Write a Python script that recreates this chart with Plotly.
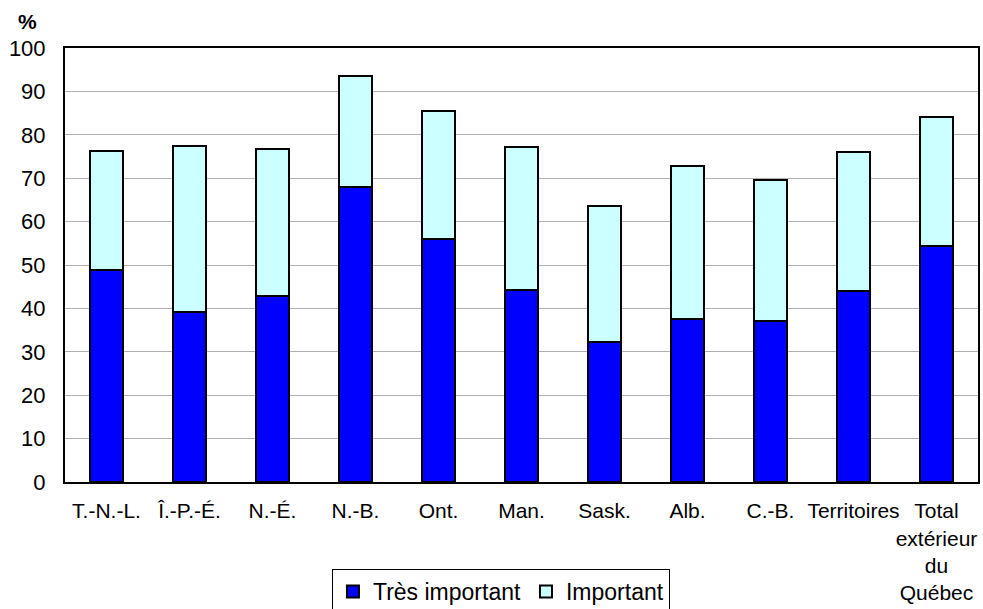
import plotly.graph_objects as go

categories = ["T.-N.-L.", "Î.-P.-É.", "N.-É.", "N.-B.", "Ont.", "Man.", "Sask.", "Alb.",
              "C.-B.", "Territoires", "Total<br>extérieur<br>du<br>Québec"]
tres_important = [48.9, 39.1, 42.9, 67.9, 56.1, 44.3, 32.3, 37.5, 37.2, 44.0, 54.3]
important = [27.3, 38.4, 33.8, 25.7, 29.5, 32.9, 31.4, 35.3, 32.4, 32.1, 29.8]
y_ticks = list(range(0, 101, 10))

font = "Liberation Sans, Arial, sans-serif"

fig = go.Figure()
fig.add_trace(go.Bar(x=categories, y=tres_important, name="Très important",
                     marker=dict(color="#0000FF", line=dict(color="black", width=2))))
fig.add_trace(go.Bar(x=categories, y=important, name="Important",
                     marker=dict(color="#CCFFFF", line=dict(color="black", width=2))))

fig.update_layout(
    width=983, height=609,
    barmode="stack", bargap=0.6,
    margin=dict(l=65, r=5, t=48, b=127, autoexpand=False),
    plot_bgcolor="white", paper_bgcolor="white",
    font=dict(family=font, size=22, color="black"),
    showlegend=True,
    legend=dict(orientation="h", x=0.4775, xanchor="center", y=-0.2005, yanchor="top",
                bordercolor="black", borderwidth=1, font=dict(size=23),
                traceorder="normal"),
    annotations=[dict(text="<b>%</b>", xref="paper", yref="paper", x=-0.0416, y=1.062,
                      xanchor="center", yanchor="middle",
                      showarrow=False, font=dict(size=21, family=font))],
)
fig.update_xaxes(showline=True, linecolor="black", linewidth=2, mirror=True,
                 ticks="outside", ticklen=9, tickcolor="rgba(0,0,0,0)",
                 tickangle=0, tickfont=dict(size=21), automargin=False)
fig.update_yaxes(range=[0, 100], tickvals=y_ticks, showgrid=True, gridcolor="#b0b0b0",
                 gridwidth=1, showline=True, linecolor="black", linewidth=2, mirror=True,
                 ticks="outside", ticklen=13, tickcolor="rgba(0,0,0,0)",
                 tickfont=dict(size=22), zeroline=False, automargin=False)

fig.write_html("out.html", config={"displayModeBar": False},
               post_script="document.body.style.margin='0';document.body.style.overflow='hidden';")
